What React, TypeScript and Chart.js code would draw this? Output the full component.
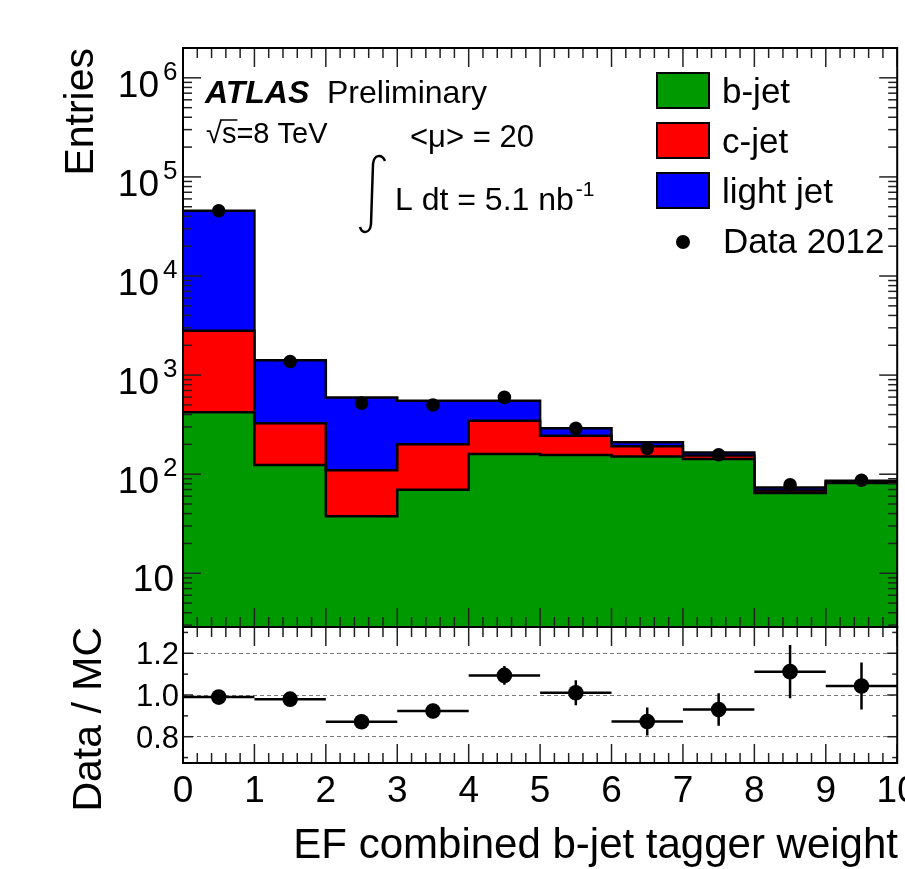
import React, { useEffect, useRef } from 'react';
import { Chart, registerables } from 'chart.js';

Chart.register(...registerables);

// ---------- data ----------
const binEdges = [0, 1, 2, 3, 4, 5, 6, 7, 8, 9, 10];
const binCenters = [0.5, 1.5, 2.5, 3.5, 4.5, 5.5, 6.5, 7.5, 8.5, 9.5];
const bJet = [421, 124, 37.7, 69.8, 160, 156, 151, 142, 64.6, 81.5];
const cJet = [2379, 202, 72, 131, 186, 88, 40, 12, 4, 3];
const lightJet = [42800, 1090, 486, 350, 205, 46, 19, 12, 5, 1.5];
const data2012 = [45600, 1370, 522, 499, 596, 290, 182, 157, 78, 87];
const ratio = [0.99, 0.98, 0.872, 0.923, 1.094, 1.011, 0.873, 0.93, 1.112, 1.043];
const ratioErr = [0.01, 0.015, 0.03, 0.035, 0.045, 0.06, 0.067, 0.078, 0.128, 0.113];
const xTickLabels = ['0', '1', '2', '3', '4', '5', '6', '7', '8', '9', '10'];
const logTickExponents = [1, 2, 3, 4, 5, 6];
const ratioTickLabels = ['0.8', '1.0', '1.2'];
const legendItems = [
  { label: 'b-jet', color: '#009900' },
  { label: 'c-jet', color: '#ff0000' },
  { label: 'light jet', color: '#0000ff' },
];

const FONT = '"Liberation Sans", Arial, Helvetica, sans-serif';

const histStep = (vals: number[]) =>
  binEdges.map((e, i) => ({ x: e, y: vals[Math.min(i, vals.length - 1)] }));

const rootPlugin = {
  id: 'rootStyle',
  beforeDatasetsDraw(chart: any) {
    const ctx = chart.ctx;
    const x = chart.scales.x;
    const yr = chart.scales.yR;
    ctx.save();
    ctx.strokeStyle = '#000';
    ctx.lineWidth = 2.5;
    binCenters.forEach((c, i) => {
      const py = yr.getPixelForValue(ratio[i]);
      ctx.beginPath();
      ctx.moveTo(x.getPixelForValue(c - 0.5), py);
      ctx.lineTo(x.getPixelForValue(c + 0.5), py);
      const px = x.getPixelForValue(c);
      ctx.moveTo(px, yr.getPixelForValue(ratio[i] - ratioErr[i]));
      ctx.lineTo(px, yr.getPixelForValue(ratio[i] + ratioErr[i]));
      ctx.stroke();
    });
    ctx.restore();
  },
  afterDraw(chart: any) {
    const ctx = chart.ctx;
    const x = chart.scales.x;
    const y = chart.scales.y;
    const yr = chart.scales.yR;
    const L = x.left;
    const R = x.right;
    const mT = y.top;
    const mB = y.bottom;
    const rT = yr.top;
    const rB = yr.bottom;
    ctx.save();
    const seg = (x1: number, y1: number, x2: number, y2: number) => {
      ctx.beginPath();
      ctx.moveTo(x1, y1);
      ctx.lineTo(x2, y2);
      ctx.stroke();
    };
    // x ticks
    ctx.strokeStyle = '#222';
    ctx.lineWidth = 1.5;
    for (let i = 0; i <= 50; i++) {
      const px = x.getPixelForValue(i / 5);
      const lm = i % 5 === 0 ? 19 : 10;
      seg(px, mT, px, mT + lm);
      seg(px, mB, px, mB - lm);
      seg(px, rT, px, rT + lm);
      seg(px, rB, px, rB - lm);
    }
    // log y ticks
    for (let e = 0; e <= 6; e++) {
      for (let k = 1; k <= 9; k++) {
        const v = k * Math.pow(10, e);
        if (v < y.min || v > y.max) continue;
        const py = y.getPixelForValue(v);
        const len = k === 1 ? 18 : 9;
        seg(L, py, L + len, py);
        seg(R, py, R - len, py);
      }
    }
    // ratio y ticks
    for (let i = 7; i <= 13; i++) {
      const v = i / 10;
      const py = yr.getPixelForValue(v);
      const len = i % 2 === 0 ? 10 : 5;
      seg(L, py, L + len, py);
      seg(R, py, R - len, py);
    }
    // frames
    ctx.strokeStyle = '#000';
    ctx.lineWidth = 2;
    ctx.strokeRect(L, mT, R - L, mB - mT);
    ctx.strokeRect(L, rT, R - L, rB - rT);

    ctx.fillStyle = '#000';
    // x tick labels
    ctx.font = `37px ${FONT}`;
    ctx.textAlign = 'center';
    ctx.textBaseline = 'alphabetic';
    xTickLabels.forEach((t) => {
      ctx.fillText(t, x.getPixelForValue(Number(t)), 802);
    });
    // log labels
    logTickExponents.forEach((e) => {
      const py = y.getPixelForValue(Math.pow(10, e));
      if (e === 1) {
        ctx.font = `37px ${FONT}`;
        ctx.textAlign = 'right';
        ctx.fillText('10', 174, py + 18);
      } else {
        ctx.font = `26px ${FONT}`;
        ctx.textAlign = 'left';
        ctx.fillText(String(e), 163, py + 2);
        ctx.font = `37px ${FONT}`;
        ctx.textAlign = 'right';
        ctx.fillText('10', 159, py + 19);
      }
    });
    // ratio labels
    ctx.font = `31px ${FONT}`;
    ctx.textAlign = 'right';
    ratioTickLabels.forEach((t) => {
      ctx.fillText(t, 179, yr.getPixelForValue(Number(t)) + 11);
    });
    // axis titles
    ctx.font = `42px ${FONT}`;
    ctx.textAlign = 'right';
    ctx.fillText('EF combined b-jet tagger weight', 898, 858);
    ctx.font = `41px ${FONT}`;
    ctx.save();
    ctx.translate(93, mT);
    ctx.rotate(-Math.PI / 2);
    ctx.textAlign = 'right';
    ctx.fillText('Entries', 0, 0);
    ctx.restore();
    ctx.save();
    ctx.translate(101, rT);
    ctx.rotate(-Math.PI / 2);
    ctx.textAlign = 'right';
    ctx.fillText('Data / MC', 0, 0);
    ctx.restore();

    // ATLAS label
    ctx.textAlign = 'left';
    ctx.font = `italic bold 32px ${FONT}`;
    ctx.fillText('ATLAS', 205, 103);
    ctx.font = `32px ${FONT}`;
    ctx.fillText('Preliminary', 327, 103);
    // sqrt s
    ctx.font = `29px ${FONT}`;
    const x0 = 206;
    ctx.fillText('\u221A', x0, 143);
    const w1 = ctx.measureText('\u221A').width;
    ctx.fillText('s=8 TeV', x0 + w1, 143);
    const ws = ctx.measureText('s').width;
    ctx.lineWidth = 1.5;
    seg(x0 + w1 - 2, 120, x0 + w1 + ws + 1, 120);
    // mu
    ctx.font = `31px ${FONT}`;
    ctx.fillText('<\u03BC> = 20', 410, 147);
    // integral
    ctx.lineWidth = 2.5;
    ctx.beginPath();
    ctx.moveTo(385, 161);
    ctx.bezierCurveTo(382, 154, 374, 154, 373, 164);
    ctx.lineTo(371, 224);
    ctx.bezierCurveTo(370, 234, 362, 234, 360, 227);
    ctx.stroke();
    ctx.font = `32px ${FONT}`;
    ctx.fillText('L dt = 5.1 nb', 395, 210);
    const wl = ctx.measureText('L dt = 5.1 nb').width;
    ctx.font = `21px ${FONT}`;
    ctx.fillText('-1', 395 + wl + 2, 196);

    // legend
    ctx.lineWidth = 2;
    ctx.font = `35px ${FONT}`;
    legendItems.forEach((it, i) => {
      const by = 73 + i * 50;
      ctx.fillStyle = it.color;
      ctx.fillRect(657, by, 52, 35);
      ctx.strokeStyle = '#000';
      ctx.strokeRect(657, by, 52, 35);
      ctx.fillStyle = '#000';
      ctx.fillText(it.label, 722, by + 30);
    });
    ctx.beginPath();
    ctx.arc(683, 242, 7, 0, Math.PI * 2);
    ctx.fill();
    ctx.fillText('Data 2012', 723, 253);
    ctx.restore();
  },
};

export default function App() {
  const ref = useRef<HTMLCanvasElement>(null);
  useEffect(() => {
    const canvas = ref.current;
    if (!canvas) return;
    const histCommon = {
      yAxisID: 'y',
      stack: 'mc',
      borderColor: '#000',
      borderWidth: 2.5,
      stepped: 'before',
      pointRadius: 0,
      tension: 0,
    };
    const chart = new Chart(canvas, {
      type: 'line',
      data: {
        datasets: [
          { ...histCommon, label: 'b-jet', data: histStep(bJet), backgroundColor: legendItems[0].color, fill: 'start' },
          { ...histCommon, label: 'c-jet', data: histStep(cJet), backgroundColor: legendItems[1].color, fill: '-1' },
          { ...histCommon, label: 'light jet', data: histStep(lightJet), backgroundColor: legendItems[2].color, fill: '-1' },
          {
            label: 'Data 2012',
            data: binCenters.map((c, i) => ({ x: c, y: data2012[i] })),
            yAxisID: 'y',
            stack: 'data',
            order: -1,
            showLine: false,
            fill: false,
            pointRadius: 6.8,
            pointBackgroundColor: '#000',
            pointBorderColor: '#000',
            pointBorderWidth: 0,
          },
          {
            label: 'Data / MC',
            data: binCenters.map((c, i) => ({ x: c, y: ratio[i] })),
            yAxisID: 'yR',
            order: -1,
            showLine: false,
            fill: false,
            pointRadius: 7.8,
            pointBackgroundColor: '#000',
            pointBorderColor: '#000',
            pointBorderWidth: 0,
          },
        ],
      } as any,
      options: {
        responsive: false,
        animation: false,
        events: [],
        layout: { padding: { top: 48, right: 5, left: 0, bottom: 0 } },
        plugins: {
          legend: { display: false },
          tooltip: { enabled: false },
          filler: { drawTime: 'beforeDatasetsDraw' },
        },
        scales: {
          x: {
            type: 'linear',
            min: 0,
            max: 10,
            position: 'bottom',
            ticks: { display: false },
            grid: { display: false },
            border: { display: false },
            afterFit: (s: any) => {
              s.height = 106;
            },
          },
          yR: {
            type: 'linear',
            min: 0.674,
            max: 1.326,
            position: 'left',
            stack: 'panels',
            stackWeight: 136,
            weight: 0,
            ticks: { display: false, stepSize: 0.2, includeBounds: false },
            grid: { color: '#777', lineWidth: 1, drawTicks: false },
            border: { display: false, dash: [4, 3] },
            afterFit: (s: any) => {
              s.width = 183;
            },
          },
          y: {
            type: 'logarithmic',
            min: 2.87,
            max: 2.0e6,
            position: 'left',
            stack: 'panels',
            stackWeight: 579,
            weight: 1,
            stacked: true,
            ticks: { display: false },
            grid: { display: false },
            border: { display: false },
            afterFit: (s: any) => {
              s.width = 183;
            },
          },
        },
      } as any,
      plugins: [rootPlugin],
    });
    return () => chart.destroy();
  }, []);
  return (
    <div style={{ position: 'absolute', left: 0, top: 0, width: 905, height: 869, background: '#fff' }}>
      <canvas ref={ref} width={905} height={869} style={{ width: 905, height: 869, display: 'block' }} />
    </div>
  );
}
